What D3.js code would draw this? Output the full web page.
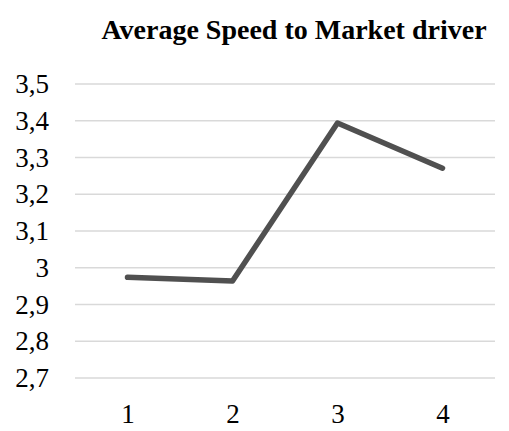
<!DOCTYPE html>
<html>
<head>
<meta charset="utf-8">
<script src="https://cdn.jsdelivr.net/npm/d3@7"></script>
</head>
<body style="margin:0; background:#fff">
<svg id="speedline" width="509" height="431" font-family="Liberation Serif"></svg>
<script>
var categories = ["1", "2", "3", "4"];
var speedValues = [2.974, 2.964, 3.394, 3.271];
var yTicks = [2.7, 2.8, 2.9, 3.0, 3.1, 3.2, 3.3, 3.4, 3.5];
var chartTitle = "Average Speed to Market driver";

var svg = d3.select('#speedline');

var xScale = d3.scalePoint()
	.domain(categories)
	.range([75, 495])
	.padding(0.5);

var yScale = d3.scaleLinear()
	.domain([2.7, 3.5])
	.range([378, 84]);

// gridlines
svg.append('g')
	.selectAll('line')
	.data(yTicks)
	.enter().append('line')
	.attr('x1', 75)
	.attr('x2', 495)
	.attr('y1', function(d) { return yScale(d); })
	.attr('y2', function(d) { return yScale(d); })
	.attr('stroke', '#d9d9d9')
	.attr('stroke-width', 1.3);

// y labels, comma decimals
var yAxis = d3.axisLeft(yScale)
	.tickValues(yTicks)
	.tickFormat(function(d) { return d3.format('.1~f')(d).replace('.', ','); })
	.tickSize(0)
	.tickPadding(26);

var yg = svg.append('g')
	.attr('transform', 'translate(75,0)')
	.call(yAxis);
yg.select('.domain').remove();
yg.attr('font-family', 'Liberation Serif').attr('font-size', 27);
yg.selectAll('text')
	.attr('fill', '#000')
	.style('font-size', '27px')
	.style('font-family', "'Liberation Serif'");

var xAxis = d3.axisBottom(xScale)
	.tickSize(0)
	.tickPadding(26);

var xg = svg.append('g')
	.attr('transform', 'translate(0,378)')
	.call(xAxis);
xg.select('.domain').remove();
xg.attr('font-family', 'Liberation Serif').attr('font-size', 27);
xg.selectAll('text')
	.attr('fill', '#000')
	.style('font-size', '27px')
	.style('font-family', "'Liberation Serif'");

var speedLine = d3.line()
	.x(function(d, i) { return xScale(categories[i]); })
	.y(function(d) { return yScale(d); });

svg.append('path')
	.datum(speedValues)
	.attr('d', speedLine)
	.attr('fill', 'none')
	.attr('stroke', '#505050')
	.attr('stroke-width', 5.5)
	.attr('stroke-linecap', 'round')
	.attr('stroke-linejoin', 'round');

svg.append('text')
	.attr('x', 294)
	.attr('y', 39)
	.attr('text-anchor', 'middle')
	.attr('fill', '#000')
	.style('font-size', '28px')
	.style('font-weight', 'bold')
	.style('font-family', "'Liberation Serif'")
	.text(chartTitle);
</script>
</body>
</html>
